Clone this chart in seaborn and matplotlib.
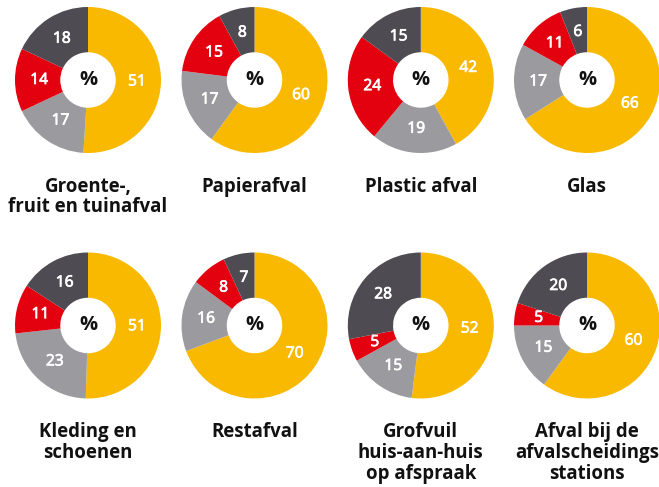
import matplotlib
matplotlib.use("Agg")
import matplotlib.pyplot as plt
import matplotlib.patheffects as pe
import seaborn as sns
import numpy as np

# ---- data ----
titles = ["Groente-,\nfruit en tuinafval", "Papierafval", "Plastic afval", "Glas",
          "Kleding en\nschoenen", "Restafval",
          "Grofvuil\nhuis-aan-huis\nop afspraak",
          "Afval bij de\nafvalscheidings\nstations"]
yellow_vals = [51, 60, 42, 66, 51, 70, 52, 60]
lightgrey_vals = [17, 17, 19, 17, 23, 16, 15, 15]
red_vals = [14, 15, 24, 11, 11, 8, 5, 5]
darkgrey_vals = [18, 8, 15, 6, 16, 7, 28, 20]
center_label = "%"

# ---- style ----
sns.set_theme(style="white")
plt.rcParams["font.family"] = ["Open Sans", "DejaVu Sans"]
colors = ["#F9B900", "#9B9A9F", "#E3000F", "#4E4C52"]
W, H = 659, 487
fig = plt.figure(figsize=(W / 100, H / 100), dpi=100)
fig.patch.set_facecolor("white")

col_x = [88, 254.5, 420.8, 587]
row_y = [80, 325.5]
R = 73
line_gap = 20.8
thicken = [pe.Stroke(linewidth=0.55, foreground="white"), pe.Normal()]

for i, title in enumerate(titles):
    cx = col_x[i % 4]
    cy = row_y[i // 4]
    ax = fig.add_axes([(cx - R) / W, (H - cy - R) / H, 2 * R / W, 2 * R / H])
    vals = [yellow_vals[i], lightgrey_vals[i], red_vals[i], darkgrey_vals[i]]
    wedges, _ = ax.pie(vals, colors=colors, startangle=90, counterclock=False,
                       radius=1, wedgeprops=dict(width=0.62, linewidth=0))
    for w, v in zip(wedges, vals):
        ang = np.deg2rad((w.theta1 + w.theta2) / 2)
        r = 0.67
        ax.text(r * np.cos(ang), r * np.sin(ang), str(v), ha="center", va="center",
                color="white", fontsize=11.2, path_effects=thicken)
    ax.text(0, 0, center_label, ha="center", va="center", color="#111111",
            fontsize=14.5, fontweight="bold")
    ax.set_xlim(-1, 1)
    ax.set_ylim(-1, 1)
    ax.set_aspect("equal")
    ax.axis("off")
    for k, line in enumerate(title.split("\n")):
        fig.text(cx / W, 1 - (cy + 111.7 + k * line_gap) / H, line, ha="center",
                 va="baseline", fontsize=13.4, fontweight="bold", color="#111111")

fig.savefig("out.png", dpi=100, facecolor="white")
